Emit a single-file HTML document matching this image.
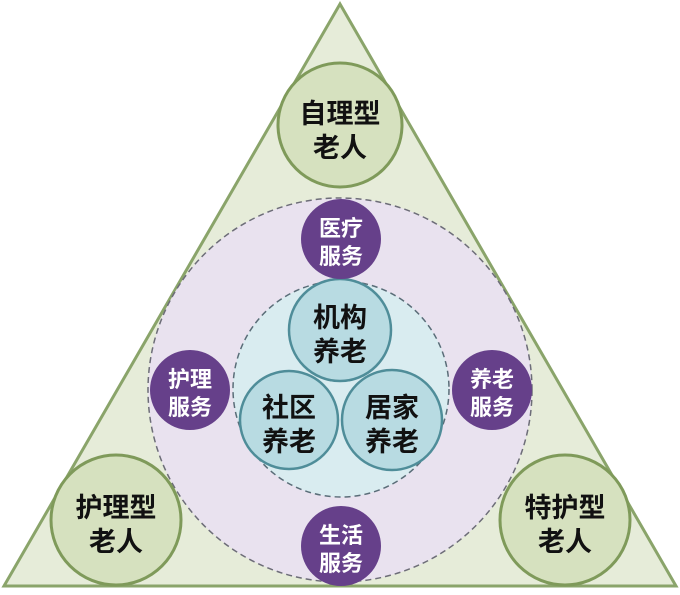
<!DOCTYPE html>
<html><head><meta charset="utf-8"><style>
html,body{margin:0;padding:0;background:#fff;}
svg text{font-family:"Liberation Sans","Noto Sans CJK SC",sans-serif;font-weight:bold;text-anchor:middle;}
</style></head><body>
<svg width="680" height="590" viewBox="0 0 680 590" xmlns="http://www.w3.org/2000/svg">
<polygon points="340,4 4,586 676,586" fill="#e6ecd9" stroke="#8aa46a" stroke-width="3"/>
<circle cx="340" cy="390" r="192" fill="#e9e2ef" stroke="#6d6d78" stroke-width="1.5" stroke-dasharray="6,4"/>
<circle cx="341" cy="389" r="108" fill="#d9ecf0" stroke="#5a6d78" stroke-width="1.5" stroke-dasharray="6,4"/>
<g fill="#d6e1bf" stroke="#7f9a5a" stroke-width="3">
<circle cx="340" cy="125" r="62"/>
<circle cx="116" cy="520" r="65"/>
<circle cx="565" cy="520" r="65"/>
</g>
<g fill="#b8dbe2" stroke="#4f8d99" stroke-width="2.5">
<circle cx="340" cy="330" r="51"/>
<circle cx="289" cy="420" r="49"/>
<circle cx="392" cy="420" r="50"/>
</g>
<g fill="#66408a">
<circle cx="341" cy="239" r="40"/>
<circle cx="190" cy="390" r="40"/>
<circle cx="492" cy="390" r="40"/>
<circle cx="341" cy="546" r="40"/>
</g>
<g font-size="27" fill="#111">
<text x="340" y="123">自理型</text><text x="340" y="157">老人</text>
<text x="116" y="517">护理型</text><text x="116" y="551">老人</text>
<text x="565" y="517">特护型</text><text x="565" y="551">老人</text>
</g>
<g font-size="27" fill="#111">
<text x="340" y="327">机构</text><text x="340" y="361">养老</text>
<text x="289" y="417">社区</text><text x="289" y="451">养老</text>
<text x="392" y="417">居家</text><text x="392" y="451">养老</text>
</g>
<g font-size="22" fill="#fff">
<text x="341" y="236">医疗</text><text x="341" y="264">服务</text>
<text x="190" y="387">护理</text><text x="190" y="415">服务</text>
<text x="492" y="387">养老</text><text x="492" y="415">服务</text>
<text x="341" y="543">生活</text><text x="341" y="571">服务</text>
</g>
</svg>
</body></html>
